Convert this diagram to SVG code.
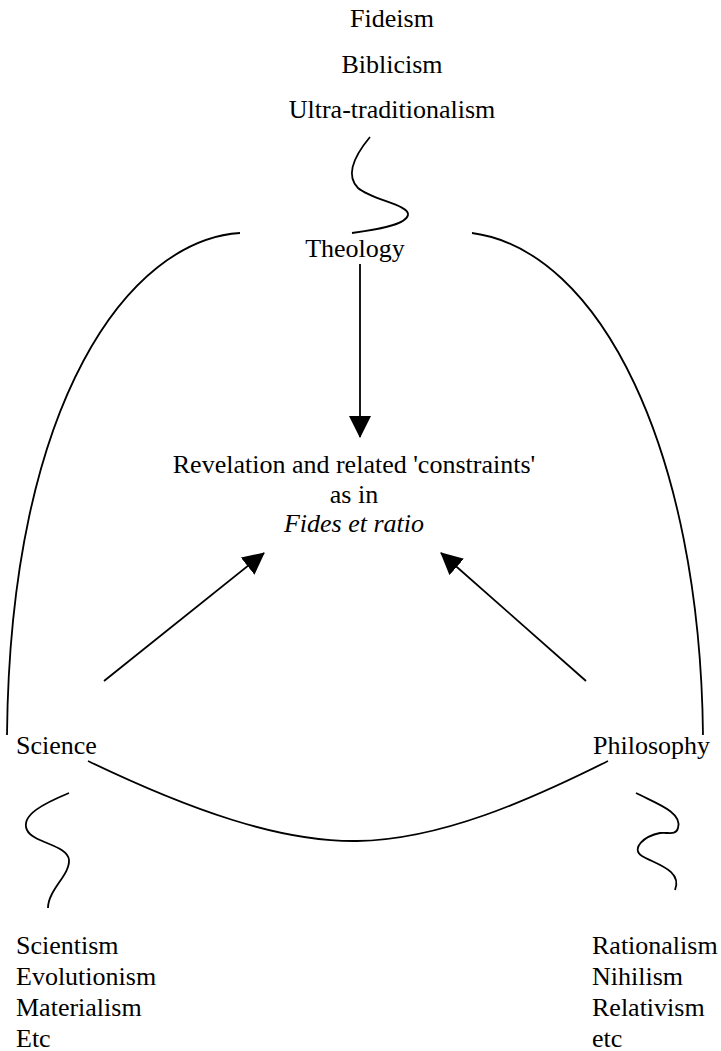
<svg xmlns="http://www.w3.org/2000/svg" width="721" height="1051" viewBox="0 0 721 1051">
<style>
text{font-family:'Liberation Serif','DejaVu Serif',serif;font-size:26px;fill:#000}
.c{text-anchor:middle}
.ln{fill:none;stroke:#000;stroke-width:1.8}
</style>
<defs>
<marker id="ah2" markerWidth="22" markerHeight="22" refX="21" refY="11" orient="auto" markerUnits="userSpaceOnUse" viewBox="0 0 22 22">
<path d="M0,0 L22,11 L0,22 Z" fill="#000"/>
</marker>
</defs>
<rect width="721" height="1051" fill="#fff"/>
<g id="connectors">
<path class="ln" d="M370,137 C355,155 345,175 358,188 C372,200 410,205 408,215 C406,225 375,230 352,233"/>
<path class="ln" d="M240,233 C130,240 10,400 7,735"/>
<path class="ln" d="M472,233 C600,250 700,450 703,735"/>
<path class="ln" d="M88,761 C190,810 280,842 357,841 C440,840 530,800 608,761"/>
<path class="ln" d="M69,793 C45,803 20,815 27,830 C33,843 68,845 69,860 C70,875 48,890 48,908"/>
<path class="ln" d="M636,793 C655,803 683,812 678,828 C676,836 668,832 660,833 C645,836 630,848 642,856 C655,864 683,870 675,890"/>
<line class="ln" x1="360" y1="264" x2="360" y2="437" marker-end="url(#ah2)"/>
<line class="ln" x1="104" y1="681" x2="264" y2="553" marker-end="url(#ah2)"/>
<line class="ln" x1="586" y1="681" x2="441" y2="553" marker-end="url(#ah2)"/>
</g>
<g font-family="Liberation Serif, serif" font-size="26">
<g id="theology-extremes">
<text class="c" x="392" y="27">Fideism</text>
<text class="c" x="392" y="73">Biblicism</text>
<text class="c" x="392" y="118">Ultra-traditionalism</text>
</g>
<g id="theology"><text class="c" x="355" y="257">Theology</text></g>
<g id="revelation">
<text class="c" x="354" y="473">Revelation and related 'constraints'</text>
<text class="c" x="354" y="503">as in</text>
<text class="c" x="354" y="532" font-style="italic">Fides et ratio</text>
</g>
<g id="science"><text x="16" y="754">Science</text></g>
<g id="philosophy"><text x="593" y="754">Philosophy</text></g>
<g id="science-extremes">
<text x="16" y="954">Scientism</text>
<text x="16" y="985">Evolutionism</text>
<text x="16" y="1016">Materialism</text>
<text x="16" y="1047">Etc</text>
</g>
<g id="philosophy-extremes">
<text x="592" y="954">Rationalism</text>
<text x="592" y="985">Nihilism</text>
<text x="592" y="1016">Relativism</text>
<text x="592" y="1047">etc</text>
</g>
</g>
</svg>
